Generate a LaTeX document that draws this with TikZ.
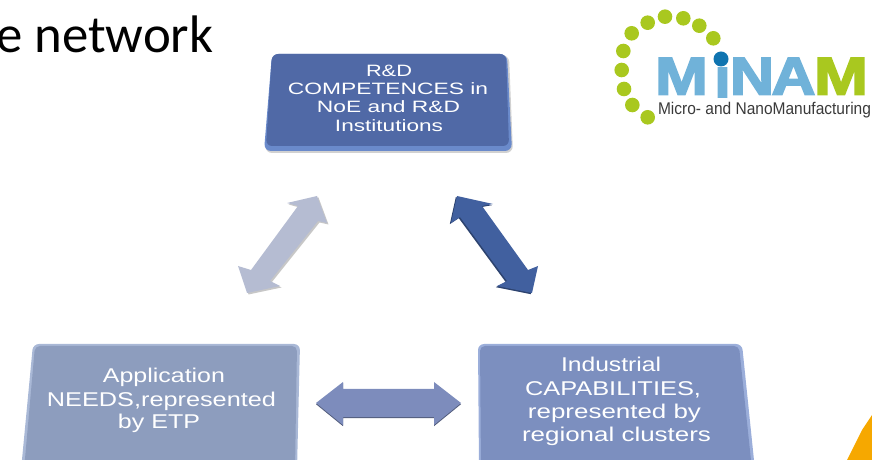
\documentclass[tikz,border=0pt]{standalone}
\usepackage{fontspec}
\setmainfont{Liberation Sans}
\newfontfamily\titlefont{Carlito}
\newfontfamily\logofont[BoldFeatures={FakeBold=3}]{Liberation Sans}
\definecolor{boxtop}{HTML}{5069A6}
\definecolor{boxtopedge}{HTML}{6A8ACB}
\definecolor{boxleft}{HTML}{8D9DBE}
\definecolor{boxleftedge}{HTML}{A9B8D6}
\definecolor{boxright}{HTML}{7C8FBF}
\definecolor{boxrightedge}{HTML}{9BAEDA}
\definecolor{arrgray}{HTML}{B5BCD2}
\definecolor{arrblue}{HTML}{41609F}
\definecolor{arrmid}{HTML}{7D8CBC}
\definecolor{logoblue}{HTML}{70B2D9}
\definecolor{logodot}{HTML}{0F74B0}
\definecolor{logogreen}{HTML}{A9C81F}
\definecolor{logotext}{HTML}{3A3A3A}
\definecolor{cornerorange}{HTML}{F6A800}
\newcommand{\fitw}[2]{\resizebox{#1bp}{\height}{#2}}
\newcommand{\fitwh}[3]{\resizebox{#1bp}{#2bp}{#3}}
\tikzset{
  lbl/.style={anchor=base,inner sep=0pt,text=white,font=\fontsize{16.5}{18}\selectfont},
  lblbig/.style={lbl,font=\fontsize{20}{22}\selectfont},
  dot/.style={circle,fill=logogreen,minimum size=14.6bp,inner sep=0pt},
  letter/.style={anchor=base,inner sep=0pt,font=\logofont\bfseries\fontsize{56}{60}\selectfont}
}
\begin{document}
\begin{tikzpicture}[x=1bp,y=-1bp]
\useasboundingbox (0,0) rectangle (872,460);
\clip (0,0) rectangle (872,460);
% title
\node[anchor=base west,inner sep=0pt,font=\titlefont\fontsize{53}{56}\selectfont] (title) at (-4,53) {e network};
% boxes
\fill[black!18,rounded corners=7bp] (272,55) -- (509,55) -- (513,153) -- (265,153) -- cycle;
\fill[boxtopedge,rounded corners=7bp] (272,54) -- (507,54) -- (512,151) -- (264,151) -- cycle;
\fill[boxtop,rounded corners=6bp] (272,54) -- (506,54) -- (509,146) -- (266,146) -- cycle;
\fill[boxleftedge,rounded corners=6bp] (33,344) -- (300,344) -- (297,470) -- (21,470) -- cycle;
\fill[boxleft,rounded corners=5bp] (35,346) -- (297,346) -- (295,470) -- (24,470) -- cycle;
\fill[boxrightedge,rounded corners=6bp] (478,344) -- (742,344) -- (755,470) -- (479,470) -- cycle;
\fill[boxright,rounded corners=5bp] (480,346) -- (739,346) -- (752,470) -- (481,470) -- cycle;
% box texts
\node[lbl] (t1) at (389,77) {\fitw{46}{R\&D}};
\node[lbl] (t2) at (388,95) {\fitw{200}{COMPETENCES in}};
\node[lbl] (t3) at (388.5,113) {\fitw{143}{NoE and R\&D}};
\node[lbl] (t4) at (389,132) {\fitw{108}{Institutions}};
\node[lblbig] (l1) at (164,383) {\fitw{122}{Application}};
\node[lblbig] (l2) at (161.5,406) {\fitw{229}{NEEDS,represented}};
\node[lblbig] (l3) at (159,428) {\fitw{82}{by ETP}};
\node[lblbig] (r1) at (611,372) {\fitw{100}{Industrial}};
\node[lblbig] (r2) at (613,395) {\fitw{176}{CAPABILITIES,}};
\node[lblbig] (r3) at (614.5,418) {\fitw{173}{represented by}};
\node[lblbig] (r4) at (616.5,441) {\fitw{189}{regional clusters}};
% arrows
\fill[black!22,shift={(1.5,1.5)}] (317,196) -- (287,203) -- (298,206) -- (251,270) -- (238,266) -- (247,293) -- (280,286) -- (270,281) -- (318,221) -- (327,223) -- cycle;
\fill[arrgray] (317,196) -- (287,203) -- (298,206) -- (251,270) -- (238,266) -- (247,293) -- (280,286) -- (270,281) -- (318,221) -- (327,223) -- cycle;
\fill[arrblue!70!black,shift={(-1.2,1.2)}] (457,196) -- (493,204) -- (482,206) -- (528,270) -- (538,266) -- (532,293) -- (497,286) -- (507,281) -- (460,217) -- (451,223) -- cycle;
\fill[arrblue] (457,196) -- (493,204) -- (482,206) -- (528,270) -- (538,266) -- (532,293) -- (497,286) -- (507,281) -- (460,217) -- (451,223) -- cycle;
\fill[arrmid!65!black,shift={(0,1.2)}] (316,403) -- (343,382) -- (343,389) -- (434,389) -- (434,382) -- (461,403) -- (434,425) -- (434,417) -- (343,417) -- (343,425) -- cycle;
\fill[arrmid] (316,403) -- (343,382) -- (343,389) -- (434,389) -- (434,382) -- (461,403) -- (434,425) -- (434,417) -- (343,417) -- (343,425) -- cycle;
% logo
\foreach \n/\xx/\yy in {a/713.3/38.3,b/699.3/25.7,c/683.3/18.3,d/665/16.7,e/647.7/22.7,f/631.7/33.3,g/623.3/51,h/621.7/70,i/624/89,j/632.3/105,k/647.7/117.3}
  \node[dot] (dot\n) at (\xx,\yy) {};
\node[letter,text=logoblue] (m1) at (681.5,94.5) {\fitwh{53}{36.5}{M}};
\node[letter,text=logoblue] (i1) at (722.5,97) {\fitwh{16}{29}{\i}};
\node[circle,fill=logodot,minimum size=15bp,inner sep=0pt] (idot) at (721,59) {};
\node[letter,text=logoblue] (n1) at (752,94.5) {\fitwh{44}{36.5}{N}};
\node[letter,text=logoblue] (a1) at (793.5,94.5) {\fitwh{44}{36.5}{A}};
\node[letter,text=logogreen] (m2) at (841,94.5) {\fitwh{54}{36.5}{M}};
\node[anchor=base,inner sep=0pt,text=logotext,font=\fontsize{17}{19}\selectfont] (cap) at (764.5,115) {\fitw{213}{Micro- and NanoManufacturing}};
% corner
\fill[cornerorange] (872,415) -- (862,430) -- (847,460) -- (872,460) -- cycle;
\end{tikzpicture}
\end{document}
